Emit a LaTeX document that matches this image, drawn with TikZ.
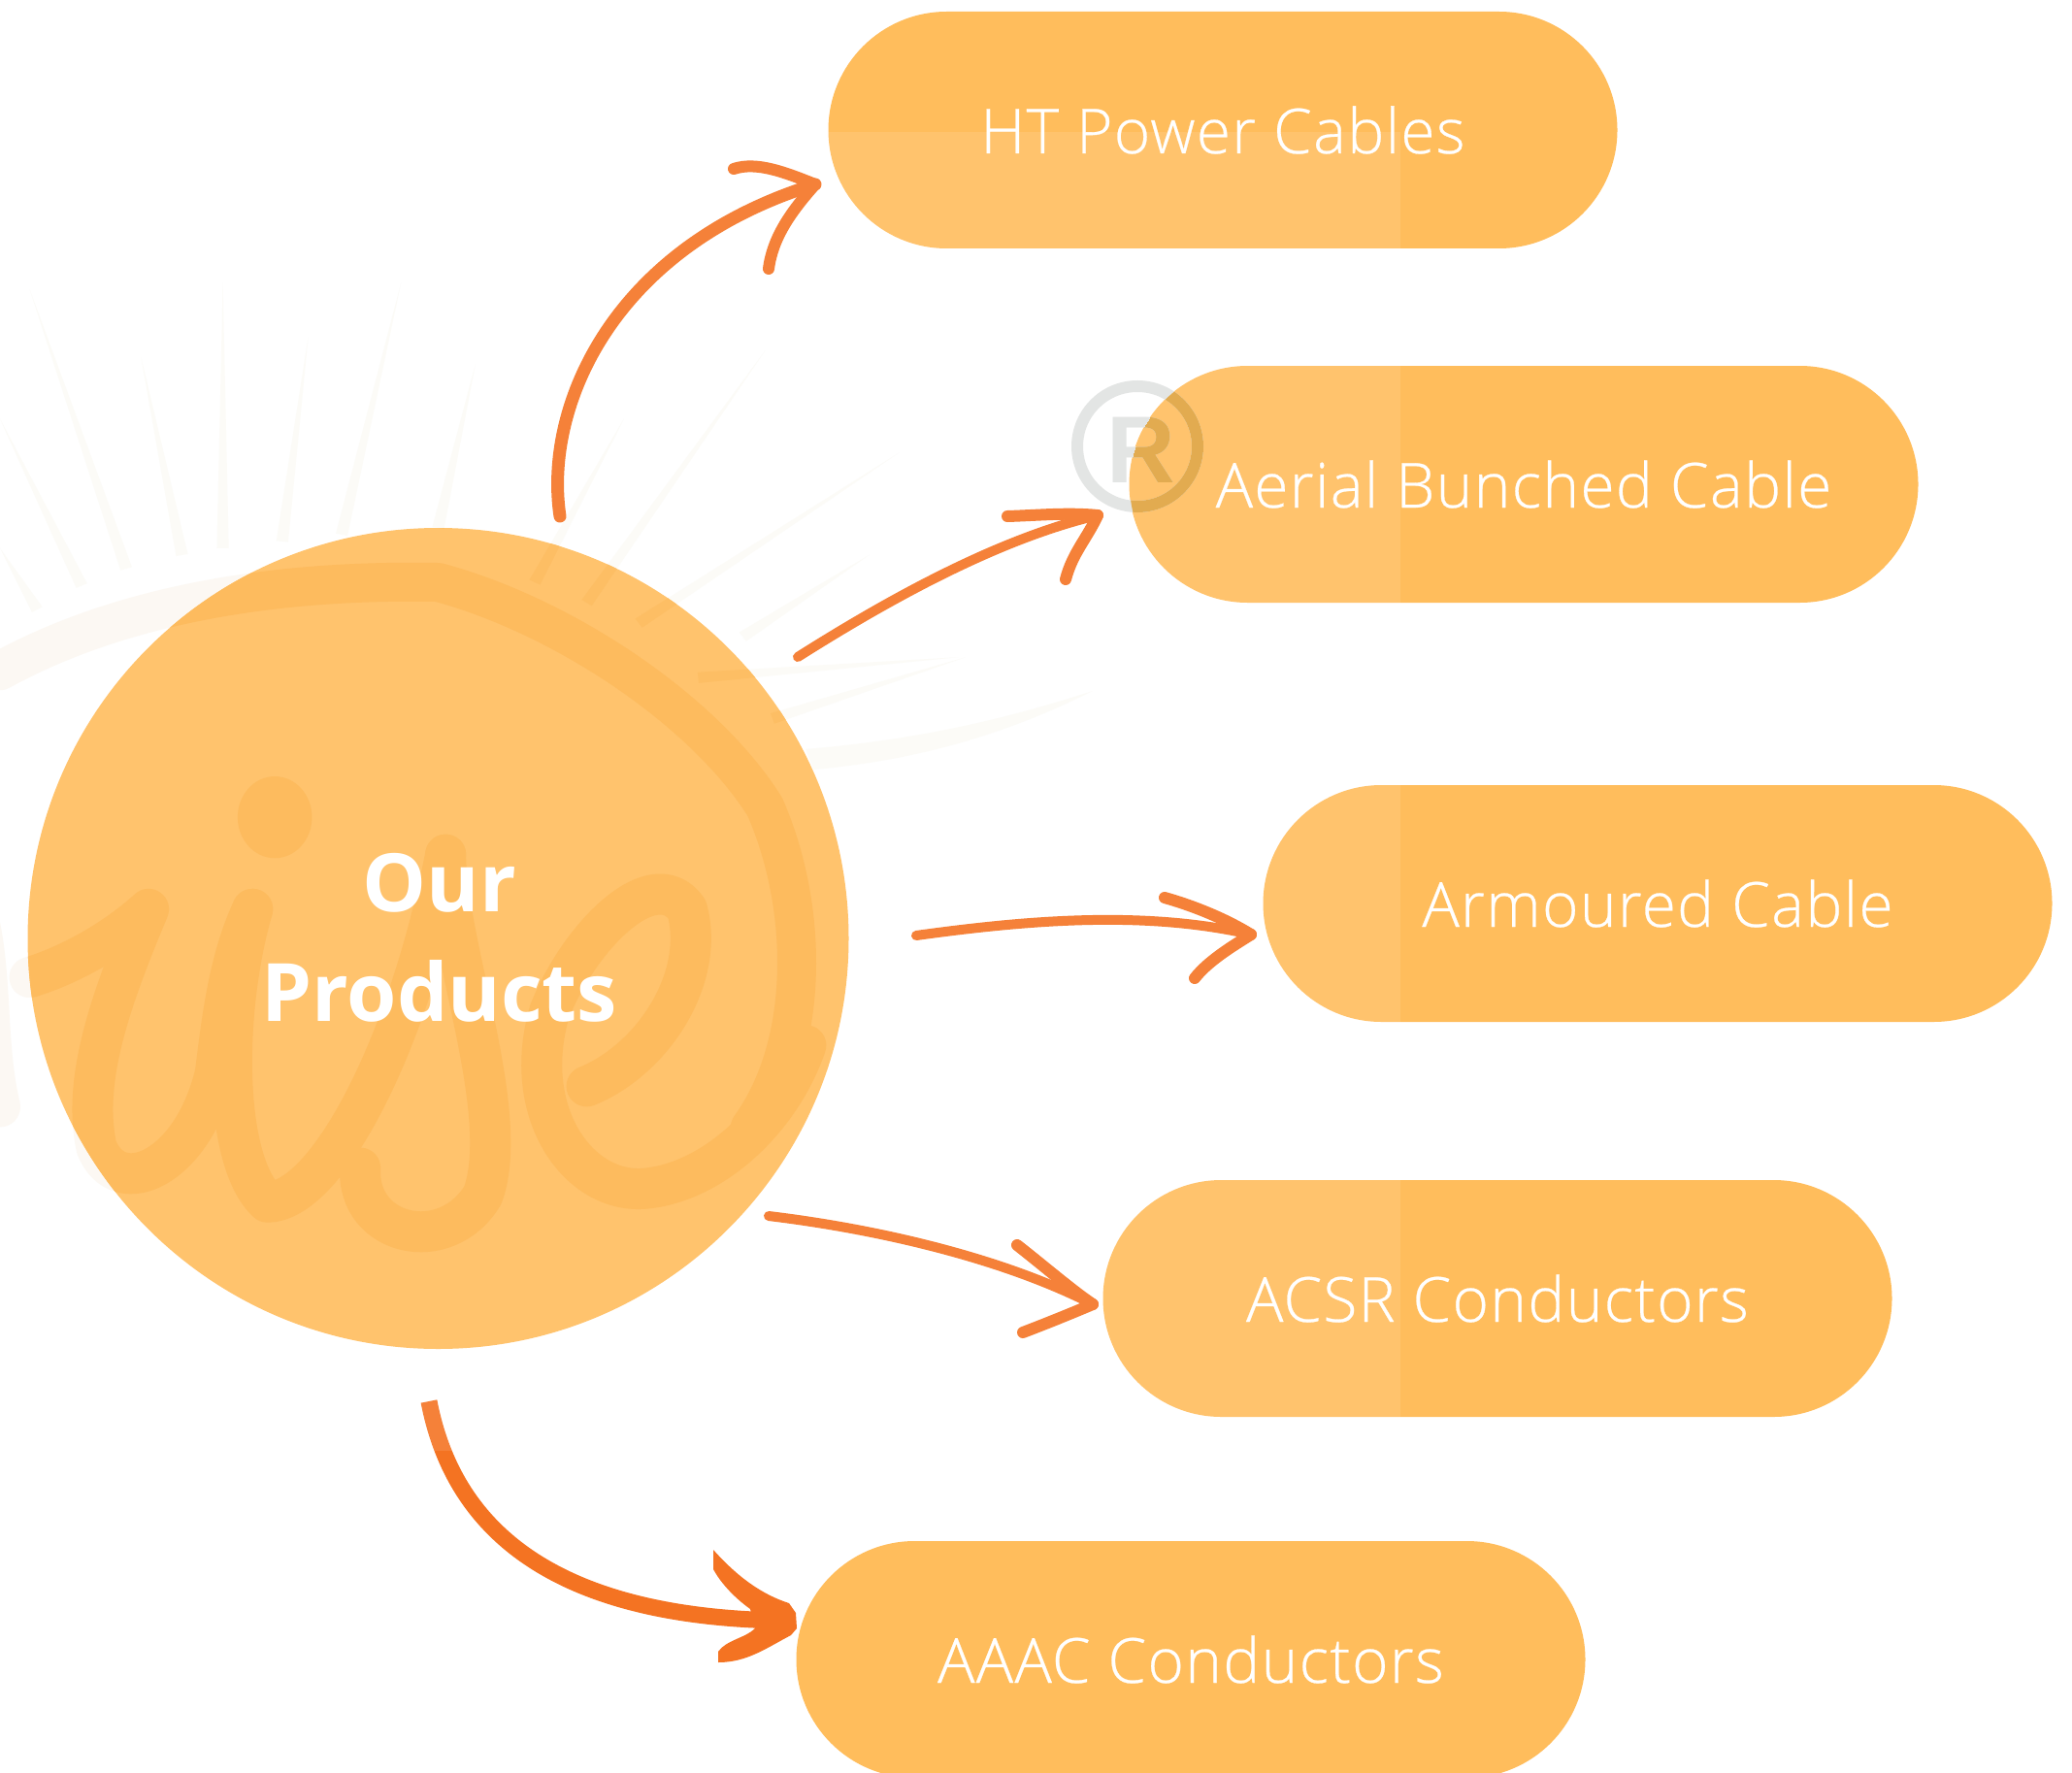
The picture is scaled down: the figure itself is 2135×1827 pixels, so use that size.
\documentclass[tikz,border=0pt]{standalone}
\usepackage{fontspec}
\usetikzlibrary{shapes.misc,calc}
\setmainfont{Open Sans}
\newfontfamily\lightfont[LetterSpace=2,FakeBold=0.4]{Open Sans Light}
\newfontfamily\boldfont{Open Sans Bold}
\newfontfamily\markfont{Liberation Sans Bold}
\definecolor{pillc}{HTML}{FFBD5C}
\definecolor{inkc}{HTML}{F47322}
\definecolor{wmout}{HTML}{FCF8F2}
\definecolor{rayout}{HTML}{FCFBF7}
\definecolor{wmin}{HTML}{FDBB5E}
\definecolor{rayin}{HTML}{FDBE64}
\definecolor{regout}{HTML}{E3E5E4}
\definecolor{regin}{HTML}{E2AB50}
\tikzset{
  pill/.style={rounded rectangle,fill=pillc,minimum width=813pt,minimum height=244pt,inner sep=0pt,text=white,font=\lightfont\fontsize{64}{70}\selectfont},
  hubshape/.style={circle,fill=pillc,minimum size=846pt,inner sep=0pt},
  hubtext/.style={text=white,align=center,inner sep=0pt,font=\boldfont\fontsize{83}{113}\selectfont},
  shaft/.style={draw=inkc,line width=13pt,line cap=round,line join=round},
  barb/.style={draw=inkc,line width=12pt,line cap=round,line join=round},
  wmzoom/.style={shift={(0,200)},xscale=.7653,yscale=.7018},
}
\newcommand{\wmdraw}[2]{%
  \begin{scope}[wmzoom,draw=#1,fill=#1,line cap=round,line join=round]
    \foreach \ax/\ay/\bx/\by in {300/520/300/130,170/550/40/140,245/530/190/240,110/575/0/330,50/610/0/520,
        380/510/415/210,460/500/540/130,590/490/640/250,720/570/840/330,790/600/1030/230,
        860/630/1210/380,940/710/1290/680,1000/650/1170/530,1040/770/1300/680}{
      \fill[#2] ($(\ax,\ay)!8pt!90:(\bx,\by)$) -- (\bx,\by) -- ($(\ax,\ay)!8pt!-90:(\bx,\by)$) -- cycle;
    }
    \fill[#2] (1085,815) .. controls (1250,800) and (1370,765) .. (1470,730)
       .. controls (1370,785) and (1250,830) .. (1095,845) -- cycle;
    \draw[line width=40pt] (0,700) .. controls (150,610) and (350,565) .. (590,570)
       .. controls (760,620) and (950,760) .. (1030,900)
       .. controls (1090,1050) and (1090,1250) .. (1010,1370);
    \fill (370,915) ellipse [x radius=50,y radius=60];
    \begin{scope}[line width=42pt]
      \draw (-30,1060) .. controls (-10,1150) and (-20,1250) .. (0,1340);
      \draw (40,1150) .. controls (100,1130) and (160,1090) .. (200,1050)
         .. controls (150,1180) and (110,1300) .. (130,1400)
         .. controls (160,1480) and (260,1430) .. (290,1290)
         .. controls (300,1200) and (310,1120) .. (340,1050);
      \draw (340,1050) .. controls (300,1200) and (300,1420) .. (360,1480)
         .. controls (440,1480) and (550,1250) .. (600,970);
      \draw (600,970) .. controls (600,1100) and (690,1350) .. (650,1470)
         .. controls (600,1560) and (480,1530) .. (485,1430);
      \draw (790,1310) .. controls (880,1270) and (950,1150) .. (925,1050)
         .. controls (880,980) and (780,1090) .. (740,1200)
         .. controls (700,1350) and (780,1470) .. (870,1460)
         .. controls (960,1450) and (1050,1360) .. (1085,1250);
    \end{scope}
  \end{scope}}
\newcommand{\regmark}[1]{%
  \draw[#1,line width=12pt] (1172,460) circle [radius=62];
  \node[text=#1,inner sep=0pt,font=\markfont\fontsize{98}{98}\selectfont] at (1176,464) {R};}
\begin{document}
\begin{tikzpicture}[x=1pt,y=-1pt]
\useasboundingbox (0,0) rectangle (2135,1827);
\clip (0,0) rectangle (2135,1827);
\fill[white] (0,0) rectangle (2135,1827);
\wmdraw{wmout}{rayout}
% shapes
\node[hubshape] (hub) at (451.5,967) {};
\node[pill] (p1) at (1260,134) {HT Power Cables};
\node[pill] (p2) at (1570,499) {Aerial Bunched Cable};
\node[pill] (p3) at (1708,931) {Armoured Cable};
\node[pill] (p4) at (1543,1338) {ACSR Conductors};
\node[pill] (p5) at (1227,1710) {AAAC Conductors};
% arrow end points
\coordinate (a1s) at (577,532); \coordinate (a1t) at (840,190);
\coordinate (a1b) at (756,174); \coordinate (a1c) at (792,277);
\coordinate (a2s) at (822,677); \coordinate (a2t) at (1131,531);
\coordinate (a2b) at (1038,532); \coordinate (a2c) at (1098,597);
\coordinate (a3s) at (944,964); \coordinate (a3t) at (1289,963);
\coordinate (a3b) at (1200,925); \coordinate (a3c) at (1231,1008);
\coordinate (a4s) at (792,1253); \coordinate (a4t) at (1126,1344);
\coordinate (a4b) at (1048,1283); \coordinate (a4c) at (1054,1373);
\coordinate (a5s) at (442,1444); \coordinate (a5t) at (812,1670);
% arrows
\draw[shaft] (a1s) .. controls (560,420) and (630,255) .. (a1t);
\draw[barb] (a1b) .. controls (780,166) and (810,178) .. (a1t);
\draw[barb] (a1c) .. controls (796,245) and (815,218) .. (a1t);
\draw[shaft,line width=10pt] (a2s) .. controls (920,615) and (1030,555) .. (a2t);
\draw[barb] (a2b) .. controls (1070,531) and (1100,528) .. (a2t);
\draw[barb] (a2c) .. controls (1105,570) and (1120,555) .. (a2t);
\draw[shaft,line width=10pt] (a3s) .. controls (1060,948) and (1180,938) .. (a3t);
\draw[barb] (a3b) .. controls (1225,932) and (1260,945) .. (a3t);
\draw[barb] (a3c) .. controls (1245,990) and (1270,975) .. (a3t);
\draw[shaft,line width=10pt] (a4s) .. controls (900,1266) and (1030,1295) .. (a4t);
\draw[barb] (a4b) .. controls (1070,1300) and (1105,1330) .. (a4t);
\draw[barb] (a4c) .. controls (1075,1365) and (1100,1355) .. (a4t);
\draw[shaft,line width=17pt,line cap=butt] (a5s) .. controls (470,1590) and (590,1668) .. (a5t);
\fill[inkc] (735,1597) .. controls (760,1625) and (785,1643) .. (813,1652)
  -- (820,1662) -- (821,1678) -- (815,1685) .. controls (790,1698) and (770,1713) .. (740,1713)
  -- (740,1702) .. controls (748,1690) and (768,1688) .. (778,1678) -- (773,1658)
  .. controls (755,1645) and (742,1630) .. (735,1617) -- cycle;
% pale veil over the left part
\fill[white,opacity=.104] (0,136) rectangle (1443,1495);
% marks seen through the shapes
\regmark{regout}
\begin{scope}
  \clip (hub.center) circle [radius=423];
  \wmdraw{wmin}{rayin}
\end{scope}
\begin{scope}
  \clip[rounded corners=122pt] (1164,377) rectangle (1976,621);
  \regmark{regin}
\end{scope}
\node[hubtext] (hublabel) at (453,966) {Our\\Products};
\end{tikzpicture}
\end{document}
